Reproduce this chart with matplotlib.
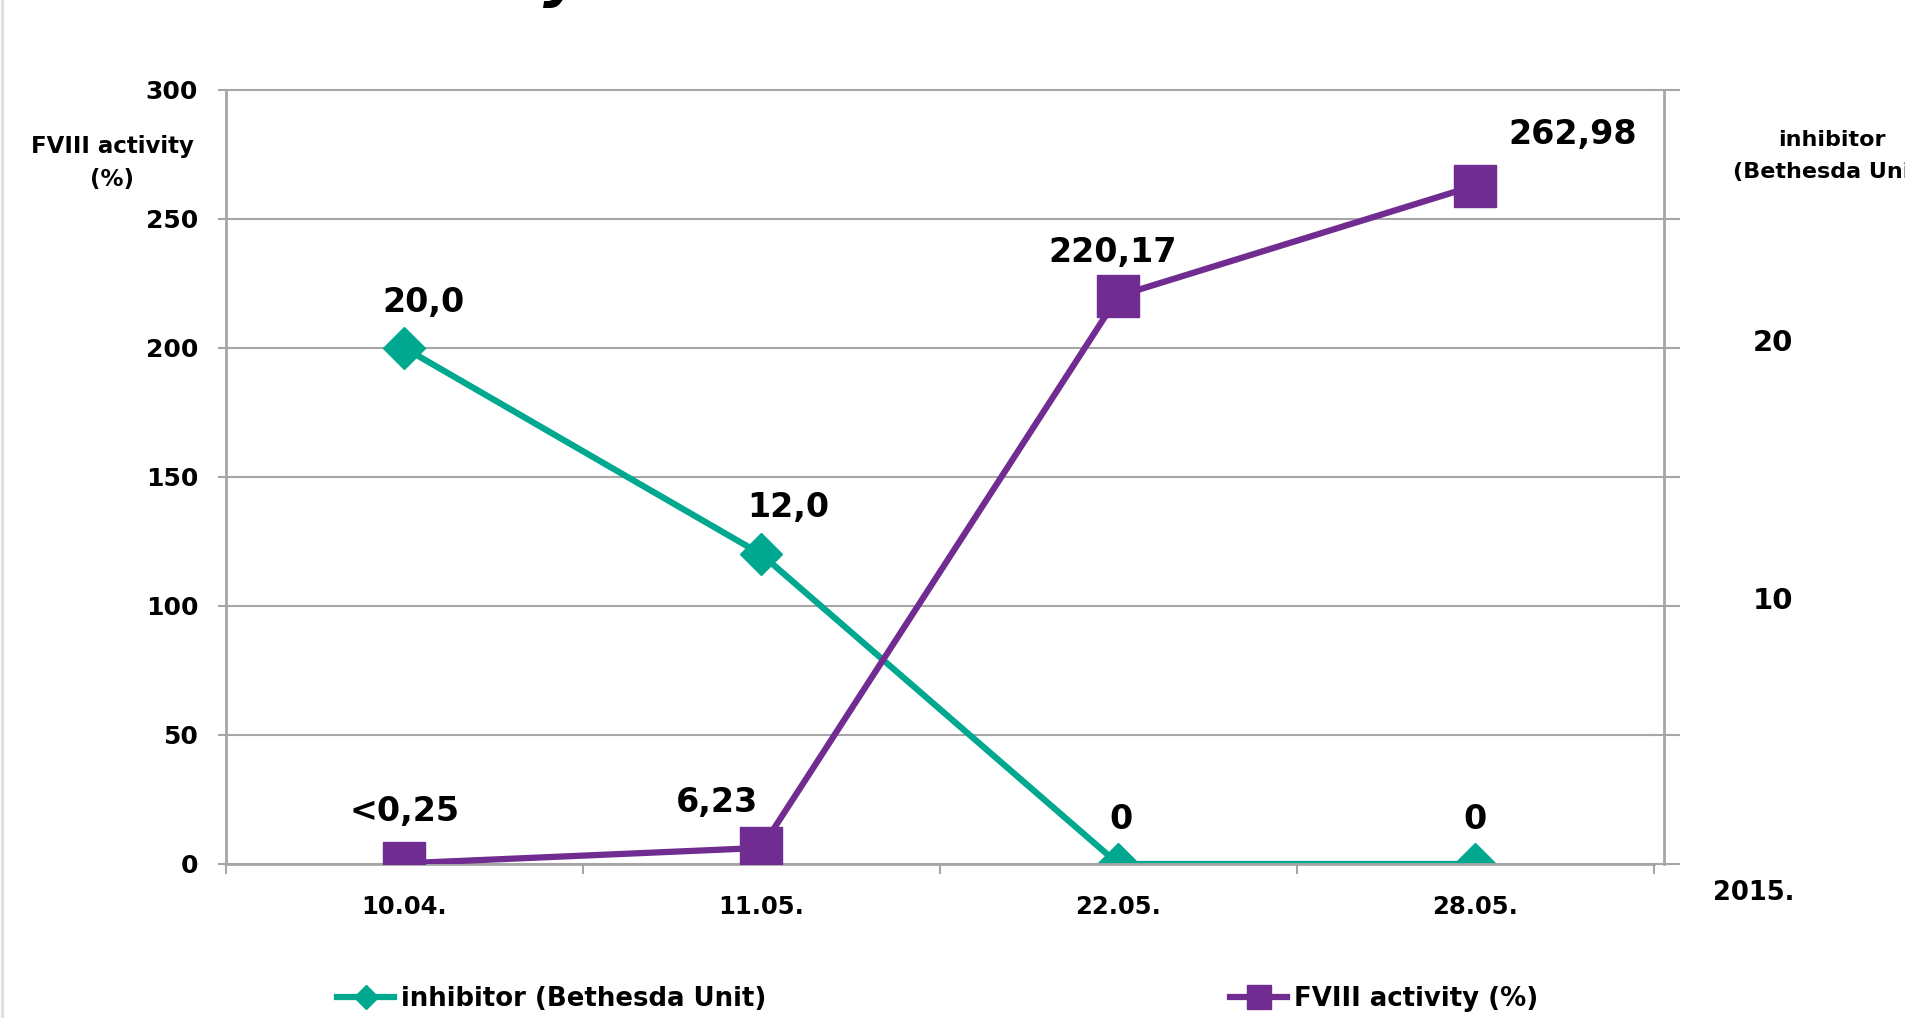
import numpy as np
import matplotlib
matplotlib.use("Agg")
import matplotlib.pyplot as plt
from matplotlib.lines import Line2D
from matplotlib.transforms import ScaledTranslation

plt.rcParams['font.family'] = ['DejaVu Sans']
plt.rcParams['font.weight'] = 'bold'

# data
dates = ['10.04.', '11.05.', '22.05.', '28.05.']
fviii = [0.25, 6.23, 220.17, 262.98]
inhibitor = [20.0, 12.0, 0, 0]
fviii_labels = ['<0,25', '6,23', '220,17', '262,98']
inhibitor_labels = ['20,0', '12,0', '0', '0']

teal = '#00A88F'
purple = '#712C91'
gray = '#A6A6A6'

fig = plt.figure(figsize=(19.05, 10.18), dpi=100)
ax = fig.add_axes([0.1186, 0.1513, 0.7496, 0.7603])
ax2 = ax.twinx()
# purple series must sit on top of the teal one
ax.set_zorder(ax2.get_zorder() + 1)
ax.patch.set_visible(False)

x = np.arange(len(dates)) + 0.5
ax.set_xlim(0, len(dates))
ax.set_ylim(0, 300)
ax2.set_ylim(0, 30)

# inhibitor on secondary axis
ax2.plot(x, inhibitor, color=teal, lw=4.5, marker='D', markersize=21,
         solid_joinstyle='miter', zorder=3)
# FVIII on primary axis
ax.plot(x, fviii, color=purple, lw=4.5, marker='s', markersize=30, zorder=3)

# grid
ax2.set_yticks(range(0, 31, 5))
ax2.yaxis.grid(True, color=gray, lw=1.5, clip_on=False)
ax2.set_axisbelow(True)

# spines
for s in ['top', 'right']:
    ax.spines[s].set_visible(False)
for s in ['left', 'bottom']:
    ax.spines[s].set_color(gray)
    ax.spines[s].set_linewidth(2)
for s in ['top', 'left', 'bottom']:
    ax2.spines[s].set_visible(False)
ax2.spines['right'].set_position(('outward', 7.5))
ax2.spines['right'].set_color(gray)
ax2.spines['right'].set_linewidth(2)

# left axis
ax.set_yticks(range(0, 301, 50))
ax.tick_params(axis='y', direction='out', length=6, width=1.5, color=gray,
               pad=14, labelsize=18)

# x axis
ax.set_xticks(x, dates)
ax.set_xticks(np.arange(len(dates) + 1), minor=True)
ax.tick_params(axis='x', which='major', length=0, pad=22, labelsize=17.5)
ax.tick_params(axis='x', which='minor', direction='out', length=7, width=1.5,
               color=gray)

# right axis
ax2.set_yticklabels(['', '', '10', '', '20', '', ''])
ax2.tick_params(axis='y', direction='inout', length=23, width=1.5, color=gray,
                pad=52, labelsize=21)
up = ScaledTranslation(0, 6 / 72, fig.dpi_scale_trans)
for lab in ax2.get_yticklabels():
    lab.set_transform(lab.get_transform() + up)

# data labels
fviii_off = [(0, 37), (-32, 33), (-4, 31), (70, 37)]
inhib_off = [(14, 33), (19, 34), (2, 32), (0, 32)]
for xi, v, t, o in zip(x, fviii, fviii_labels, fviii_off):
    ax.annotate(t, (xi, v), xytext=o, textcoords='offset points',
                ha='center', va='center', fontsize=24)
for xi, v, t, o in zip(x, inhibitor, inhibitor_labels, inhib_off):
    ax2.annotate(t, (xi, v), xytext=o, textcoords='offset points',
                 ha='center', va='center', fontsize=24)

# axis titles
fig.text(112 / 1905, 1 - 163 / 1018, 'FVIII activity\n(%)', ha='center',
         va='center', fontsize=16.5, linespacing=1.6)
fig.text(1832 / 1905, 1 - 156 / 1018, 'inhibitor\n(Bethesda Unit)',
         ha='center', va='center', fontsize=16, linespacing=1.75)
fig.text(1754 / 1905, 1 - 893 / 1018, '2015.', ha='center', va='center',
         fontsize=18.5)

# legend
h1 = Line2D([], [], color=teal, lw=4.5, marker='D', markersize=12)
h2 = Line2D([], [], color=purple, lw=4.5, marker='s', markersize=17)
for h, lab, xl in [(h1, 'inhibitor (Bethesda Unit)', 337),
                   (h2, 'FVIII activity (%)', 1230)]:
    fig.legend(handles=[h], labels=[lab], loc='center left',
               bbox_to_anchor=(xl / 1905, 1 - 999 / 1018), frameon=False,
               fontsize=18.7, handlelength=2.2, handletextpad=0.25,
               borderpad=0, borderaxespad=0)

# leftover of slide title (only its tail shows) and slide border
fig.text(543 / 1905, 1 + 5 / 1018, 'y', fontsize=44, style='italic',
         weight='bold', ha='left', va='baseline')
fig.add_artist(Line2D([0.001, 0.001], [0, 1], transform=fig.transFigure,
                      color='#DDDDDD', lw=2))

fig.savefig('out.png', dpi=100)
